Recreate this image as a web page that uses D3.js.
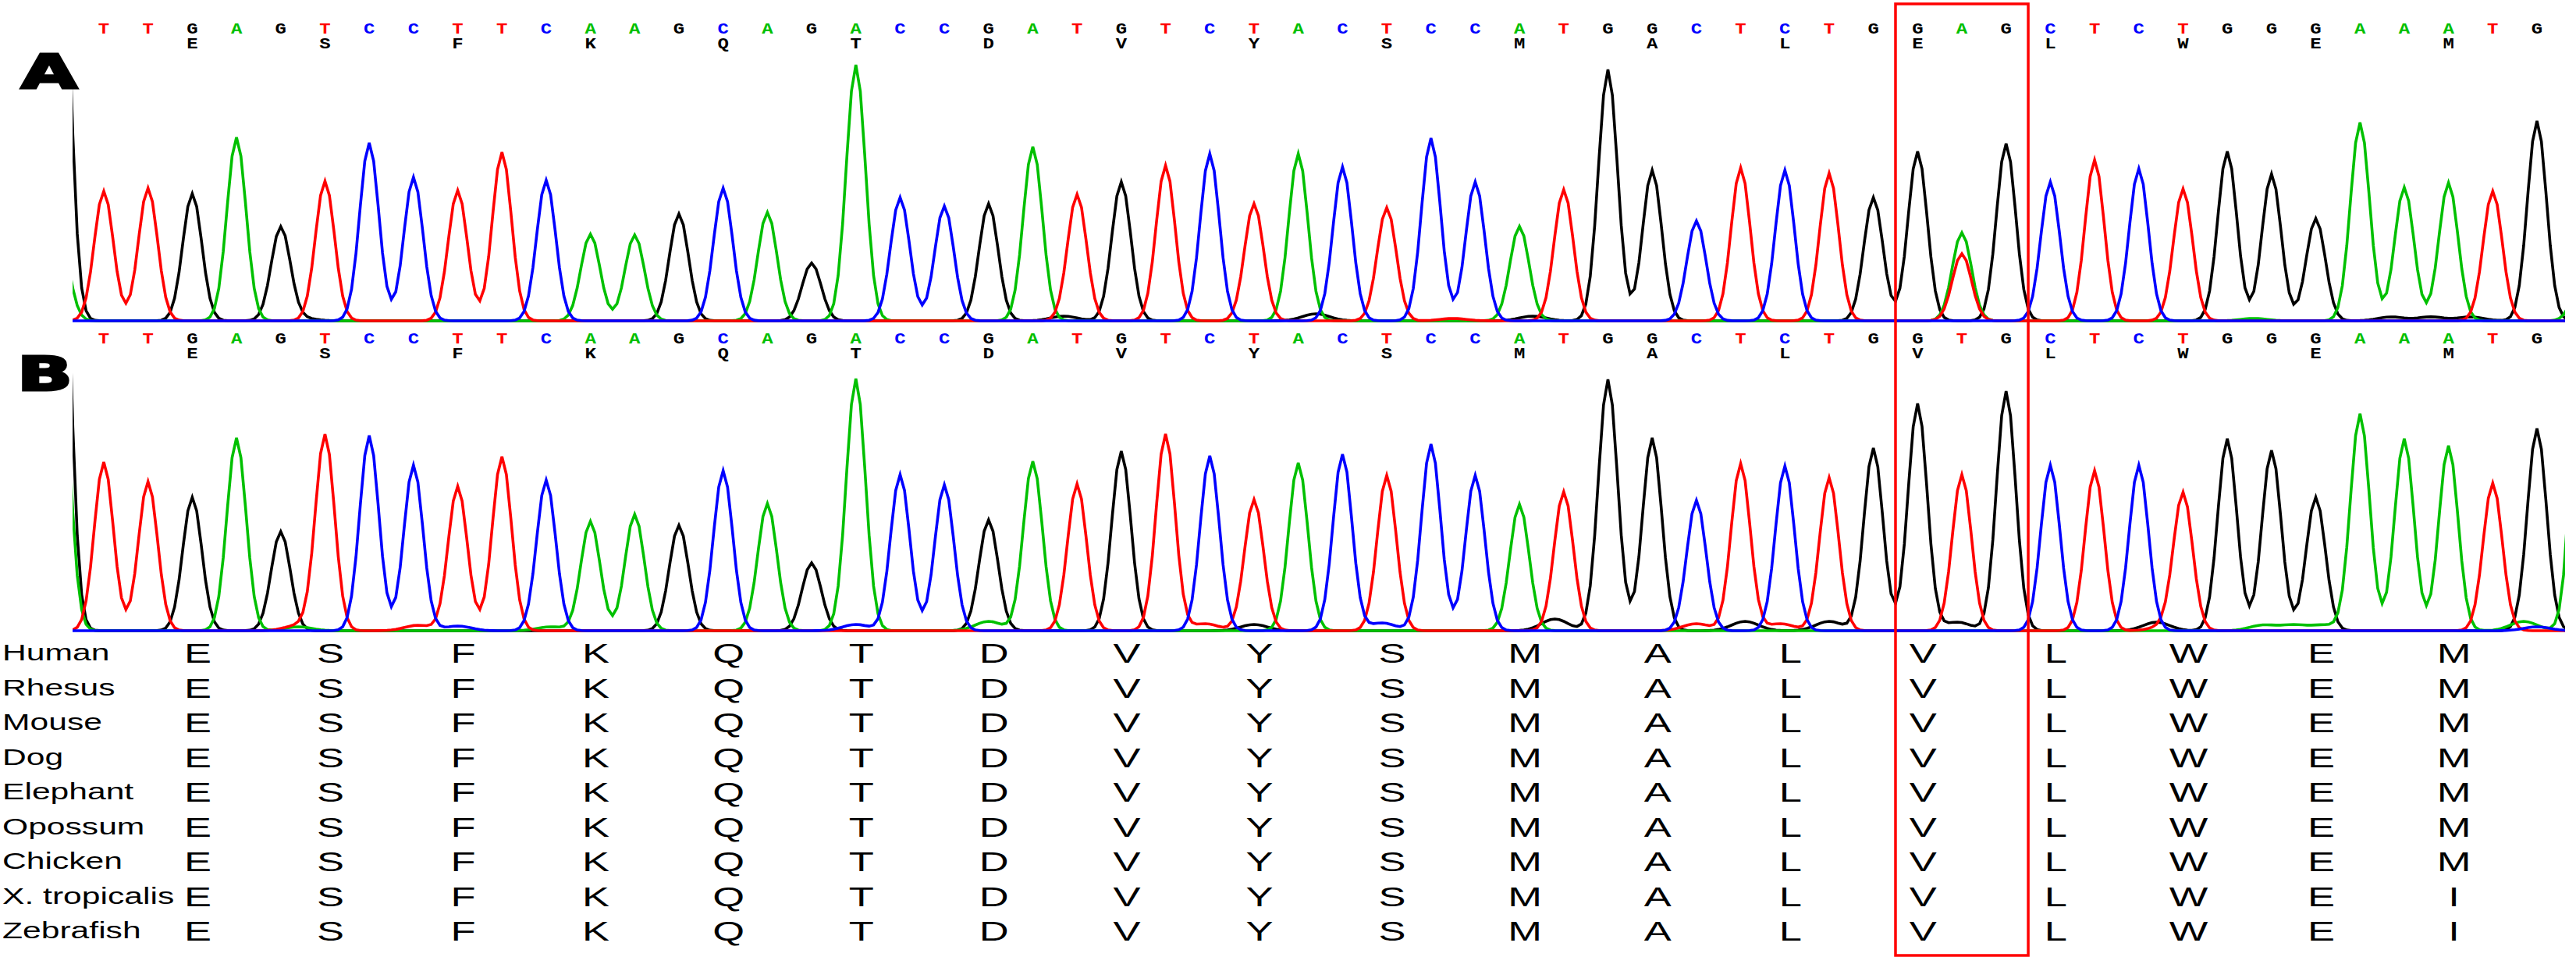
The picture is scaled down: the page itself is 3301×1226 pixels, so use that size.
<!DOCTYPE html>
<html><head><meta charset="utf-8">
<script src="https://cdn.jsdelivr.net/npm/d3@7/dist/d3.min.js"></script>
<style>html,body{margin:0;padding:0;background:#fff;}svg{display:block;}</style>
</head><body>
<svg id="chart" width="3301" height="1226"></svg>
<script>
// ---------------- DATA ----------------
const callsA = "TTGAGTCCTTCAAGCAGACCGATGTCTACTCCATGGCTCTGGAGCTCTGGGAAATG".split("");
const callsB = "TTGAGTCCTTCAAGCAGACCGATGTCTACTCCATGGCTCTGGTGCTCTGGGAAATG".split("");
const aminoA = ["E","S","F","K","Q","T","D","V","Y","S","M","A","L","E","L","W","E","M"];
const aminoB = ["E","S","F","K","Q","T","D","V","Y","S","M","A","L","V","L","W","E","M"];
// main peak height of the called base at each position (signal units)
const heightsA = [166,170,163,235,120,179,228,184,167,216,180,111,110,137,170,139,74,328,
                  158,147,150,223,162,178,199,214,150,214,197,145,234,178,121,168,322,193,128,
                  196,193,189,158,217,113,227,178,206,195,169,217,188,131,254,171,177,166,256];
const heightsB = [216,191,171,247,127,251,250,212,185,223,193,140,149,135,205,163,87,323,
                  200,187,142,217,188,230,252,224,168,215,226,199,239,199,162,178,322,247,167,
                  214,211,196,234,291,200,307,212,205,212,175,246,231,171,278,246,237,189,259];
// secondary peaks [position, base, height]
const secondaryA = [[42,"T",86]];
const secondaryB = [];
// peaks cut by the left / right edges of the trace window [position, base, height]
const edgeA = [[-1,"G",630],[-1,"A",110],[56,"A",45]];
const edgeB = [[-1,"G",690],[-1,"A",400],[56,"A",400]];
// small background bumps [position, base, height]
const minorA = [[21.7,"G",6],[27.4,"G",9],[32.3,"G",6],[30.5,"T",3],[4.5,"G",3],[51.7,"G",5],[52.6,"G",5],[53.5,"G",5],[48.6,"A",3]];
const minorB = [[4.4,"T",7],[4.4,"A",5],[7.1,"T",7],[8.0,"C",6],[10.1,"A",5],[17.0,"C",8],[20.0,"A",12],[24.9,"T",9],
                [26.0,"G",8],[28.9,"C",10],[32.8,"G",15],[36.0,"T",9],[37.1,"G",12],[37.9,"T",9],[39.0,"G",12],
                [41.9,"G",11],[46.4,"G",11],[46.6,"T",6],[48.8,"A",7],[49.5,"A",7],[50.2,"A",7],[54.7,"A",12],[55.0,"C",5]];
// alignment table
const species = ["Human","Rhesus","Mouse","Dog","Elephant","Opossum","Chicken","X. tropicalis","Zebrafish"];
const alignment = ["ESFKQTDVYSMALVLWEM","ESFKQTDVYSMALVLWEM","ESFKQTDVYSMALVLWEM","ESFKQTDVYSMALVLWEM",
                   "ESFKQTDVYSMALVLWEM","ESFKQTDVYSMALVLWEM","ESFKQTDVYSMALVLWEM","ESFKQTDVYSMALVLWEI",
                   "ESFKQTDVYSMALVLWEI"];
const highlight = [41, 43]; // codon boxed (positions)
const panelLabels = ["A","B"];

// ---------------- DRAW ----------------
const colors = {A:"#00c000", C:"#0000ff", G:"#000000", T:"#ff0000"};
const drawOrder = ["G","A","T","C"];
const svg = d3.select("#chart");
svg.append("rect").attr("width",3301).attr("height",1226).attr("fill","#fff");

const x = d3.scaleLinear().domain([0, 55]).range([133, 3251]);
const traceLeft = 93, traceRight = 3287;
const panels = [
  {calls:callsA, amino:aminoA, heights:heightsA, sec:secondaryA, edge:edgeA, minor:minorA,
   y:d3.scaleLinear().domain([0,330]).range([411,81]), baseY:43, aaY:62, label:panelLabels[0], labY:113},
  {calls:callsB, amino:aminoB, heights:heightsB, sec:secondaryB, edge:edgeB, minor:minorB,
   y:d3.scaleLinear().domain([0,330]).range([808,478]), baseY:439.5, aaY:459, label:panelLabels[1], labY:500}
];

svg.append("defs").append("clipPath").attr("id","clipT")
  .append("rect").attr("x",traceLeft).attr("y",0).attr("width",traceRight-traceLeft).attr("height",1226);

const sigma = 0.215;
const ts = d3.range(-1.6, 56.6, 0.1);

panels.forEach((p,pi) => {
  const peaks = {A:[],C:[],G:[],T:[]};
  p.calls.forEach((b,i) => peaks[b].push([i, p.heights[i], sigma]));
  p.sec.concat(p.edge).forEach(([i,b,h]) => peaks[b].push([i,h,sigma]));
  p.minor.forEach(([i,b,h]) => peaks[b].push([i,h,0.3]));

  const g = svg.append("g").attr("clip-path","url(#clipT)");
  const line = d3.line().x(d=>x(d[0])).y(d=>p.y(d[1]));
  drawOrder.forEach(ch => {
    const data = ts.map(t => {
      let v = 0;
      peaks[ch].forEach(([i,h,s]) => { v += h * Math.exp(-((t-i)*(t-i))/(2*s*s)); });
      return [t, v];
    });
    g.append("path").datum(data).attr("d", line)
      .attr("fill","none").attr("stroke", colors[ch]).attr("stroke-width",3.6)
      .attr("stroke-linejoin","miter");
  });

  // base calls
  svg.append("g").selectAll("text").data(p.calls).join("text")
    .attr("transform",(d,i)=>`translate(${x(i)},${p.baseY}) scale(1.2,1)`)
    .attr("text-anchor","middle")
    .attr("font-family","Liberation Mono, DejaVu Sans Mono, monospace")
    .attr("font-weight","bold").attr("font-size",20)
    .attr("fill",d=>colors[d]).text(d=>d);
  // amino acids (under first base of each codon)
  svg.append("g").selectAll("text").data(p.amino).join("text")
    .attr("transform",(d,k)=>`translate(${x(2+3*k)},${p.aaY}) scale(1.2,1)`)
    .attr("text-anchor","middle")
    .attr("font-family","Liberation Mono, DejaVu Sans Mono, monospace")
    .attr("font-weight","bold").attr("font-size",20)
    .attr("fill","#000").text(d=>d);

  // panel label
  svg.append("text").attr("transform",`translate(${pi===0?27:22},${p.labY}) scale(1.55,1)`)
    .attr("font-family","DejaVu Sans, sans-serif").attr("font-weight","bold")
    .attr("font-size",60).attr("fill","#000").attr("stroke","#000").attr("stroke-width",3)
    .text(p.label);
});

// alignment table
const rowY = d3.scaleLinear().domain([0, species.length-1]).range([849, 1205]);
const tbl = svg.append("g");
species.forEach((sp, r) => {
  tbl.append("text").attr("transform",`translate(3,${rowY(r)-3}) scale(1.47,1)`)
    .attr("font-family","Liberation Sans, Arial, sans-serif").attr("font-size",29)
    .attr("fill","#000").text(sp);
  tbl.append("g").selectAll("text").data(alignment[r].split("")).join("text")
    .attr("transform",(d,k)=>`translate(${x(2+3*k)+7},${rowY(r)}) scale(1.5,1)`)
    .attr("text-anchor","middle")
    .attr("font-family","Liberation Sans, Arial, sans-serif").attr("font-size",35)
    .attr("fill","#000").text(d=>d);
});

// highlight box
svg.append("rect")
  .attr("x", x(highlight[0]-0.5)).attr("y", 5)
  .attr("width", x(highlight[1]+0.5)-x(highlight[0]-0.5)).attr("height", 1219)
  .attr("fill","none").attr("stroke","#ff0000").attr("stroke-width",3.5);
</script>
</body></html>
